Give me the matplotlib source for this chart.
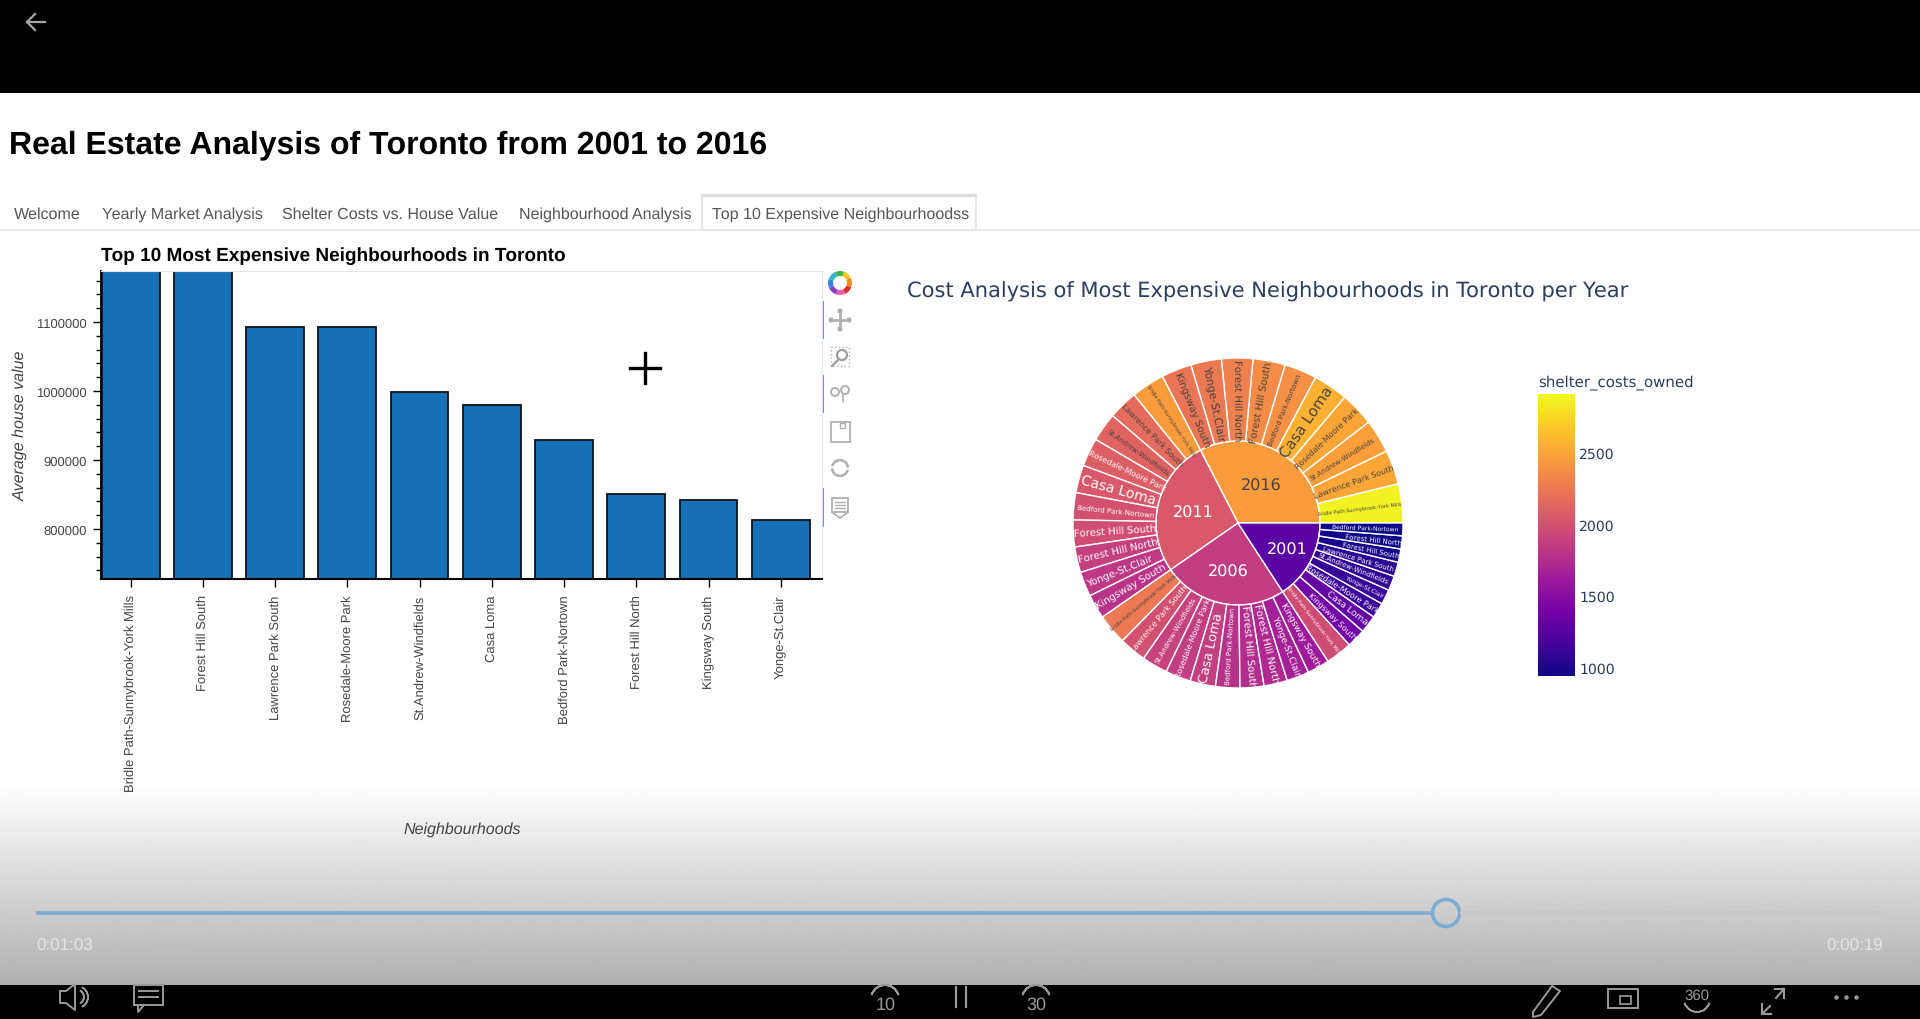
#!/usr/bin/env python3
"""
Captura de um dashboard de imóveis de Toronto (barras + sunburst) em player de vídeo.
Saída: out.png
"""

import numpy as np
import matplotlib
matplotlib.use('Agg')
import matplotlib.pyplot as plt
from matplotlib.colors import LinearSegmentedColormap, Normalize
from matplotlib.font_manager import FontProperties
from matplotlib.patches import Wedge, Rectangle, Circle
from matplotlib.textpath import TextPath

plt.rcParams['text.hinting'] = 'no_hinting'
plt.rcParams['text.hinting_factor'] = 1

SANS = 'Liberation Sans'
VERDANA = 'DejaVu Sans'

# ---------------------------------------------------------------------------
# Dados
# ---------------------------------------------------------------------------
neighbourhoods = ['Bridle Path-Sunnybrook-York Mills', 'Forest Hill South',
                  'Lawrence Park South', 'Rosedale-Moore Park',
                  'St.Andrew-Windfields', 'Casa Loma', 'Bedford Park-Nortown',
                  'Forest Hill North', 'Kingsway South', 'Yonge-St.Clair']
house_values = [1526500, 1196000, 1093000, 1092600, 998000,
                980000, 929400, 850700, 842200, 812700]

tab_names = ['Welcome', 'Yearly Market Analysis', 'Shelter Costs vs. House Value',
             'Neighbourhood Analysis', 'Top 10 Expensive Neighbourhoodss']

# ordem anti-horária a partir do leste, como no gráfico
years = ['2016', '2011', '2006', '2001']
order_main = ['Bridle Path-Sunnybrook-York Mills', 'Lawrence Park South',
              'St.Andrew-Windfields', 'Rosedale-Moore Park', 'Casa Loma',
              'Bedford Park-Nortown', 'Forest Hill South', 'Forest Hill North',
              'Yonge-St.Clair', 'Kingsway South']
order_2001 = ['Bridle Path-Sunnybrook-York Mills', 'Kingsway South', 'Casa Loma',
              'Rosedale-Moore Park', 'Yonge-St.Clair', 'St.Andrew-Windfields',
              'Lawrence Park South', 'Forest Hill South', 'Forest Hill North',
              'Bedford Park-Nortown']
costs_2016 = [2870, 2510, 2470, 2500, 2560, 2380, 2360, 2300, 2250, 2220]
costs_2011 = [2450, 2170, 2110, 2080, 2040, 1990, 1970, 1880, 1820, 1790]
costs_2006 = [2246, 1990, 1900, 1860, 1870, 1780, 1750, 1720, 1650, 1620]
costs_2001 = [1955, 1380, 1300, 1120, 1100, 1080, 1050, 980, 960, 930]

year_labels = [order_main, order_main, order_main, order_2001]
year_costs = [costs_2016, costs_2011, costs_2006, costs_2001]
year_text_r = [44, 46, 49, 56]

cbar_ticks = [1000, 1500, 2000, 2500]

PLASMA = ['#0d0887', '#46039f', '#7201a8', '#9c179e', '#bd3786',
          '#d8576b', '#ed7953', '#fb9f3a', '#fdca26', '#f0f921']
cmap = LinearSegmentedColormap.from_list('plotly_plasma', PLASMA)
norm = Normalize(937, 2911)

W, H = 1920, 1020
fig = plt.figure(figsize=(W / 100, H / 100), dpi=100, facecolor='white')


def px_axes(left, top, right, bottom, **kw):
    """Eixos posicionados em pixels da imagem."""
    return fig.add_axes([left / W, 1 - bottom / H, (right - left) / W, (bottom - top) / H], **kw)


# ---- Fundo do player ----
bg = px_axes(0, 0, W, H)
bg.axis('off')
bg.add_patch(Rectangle((0, 0), W, 94, color='black', lw=0))
bg.add_patch(Rectangle((0, 986), W, 34, color='black', lw=0))
grad = np.linspace(1, 0.69, 256).reshape(-1, 1)
bg.imshow(grad, extent=(0, W, 986, 784), cmap='gray', vmin=0, vmax=1, aspect='auto', zorder=0)
bg.set_xlim(0, W)
bg.set_ylim(H, 0)

# seta de voltar
bg.plot([27, 45], [23, 23], color='#a8a8a8', lw=1.6)
bg.plot([35, 27, 35], [15, 23, 31], color='#a8a8a8', lw=1.6)

# ---- Título e abas ----
# Liberation Sans só aceita tamanhos inteiros em px: 22.8 pt é o mais próximo
bg.text(9, 153, 'Real Estate Analysis of Toronto from 2001 to 2016', family=SANS,
        fontweight='bold', fontsize=22.8, color='black', ha='left', va='baseline')
bg.plot([0, W], [230.5, 230.5], color='#e6e6e6', lw=1.2)
bg.add_patch(Rectangle((702, 196), 274, 35, fc='white', ec='#e2e2e2', lw=1.2, zorder=2))
bg.plot([703, 975], [196, 196], color='#dddddd', lw=2.5, zorder=3)
for name, x in zip(tab_names, [14, 102, 282.5, 519, 712]):
    bg.text(x, 219, name, family=SANS, fontsize=11.45, color='#555555',
            ha='left', va='baseline', zorder=4)

# ---- Controles do player ----
bg.plot([35.5, 1433], [914, 914], color='#7dabd3', lw=2.6, solid_capstyle='butt')
bg.plot([1460, 1883], [914, 914], color='#c8c8c8', lw=2.6, solid_capstyle='butt')
bg.add_patch(Circle((1446, 914), 13.5, fc='none', ec='#7dabd3', lw=2.6))
bg.text(36, 951, '0:01:03', family=SANS, fontsize=12, color='#e2e2e2', ha='left', va='baseline')
bg.text(1883, 951, '0:00:19', family=SANS, fontsize=12, color='#e2e2e2', ha='right', va='baseline')

ICON = '#9a9a9a'
# alto-falante
bg.plot([60, 66, 75, 75, 66, 60, 60], [992, 992, 985, 1011, 1004, 1004, 992], color=ICON, lw=1.4)
for off in (4, 8):
    bg.add_patch(Wedge((77, 998), 3 + off, -60, 60, width=0.1, ec=ICON, lw=1.2))
# comentário
bg.add_patch(Rectangle((134, 986), 29, 20, fc='none', ec=ICON, lw=1.4))
bg.plot([139, 158], [992, 992], color=ICON, lw=1.4)
bg.plot([139, 158], [998, 998], color=ICON, lw=1.4)
bg.plot([138, 138, 144], [1006, 1013, 1006], color=ICON, lw=1.4)
# voltar 10, pausa, avançar 30
bg.add_patch(Wedge((885, 1000), 14, 200, 340, width=0.1, ec=ICON, lw=1.4))
bg.text(886, 1005, '10', family=SANS, fontsize=13, color=ICON, ha='center', va='center')
bg.plot([956, 956], [988, 1008], color=ICON, lw=1.6)
bg.plot([966, 966], [988, 1008], color=ICON, lw=1.6)
bg.add_patch(Wedge((1036, 1000), 14, 200, 340, width=0.1, ec=ICON, lw=1.4))
bg.text(1036, 1005, '30', family=SANS, fontsize=13, color=ICON, ha='center', va='center')
# lápis, pip, 360, expandir, mais
bg.plot([1533, 1552, 1560, 1541, 1533, 1533], [1013, 987, 992, 1016, 1018, 1013], color=ICON, lw=1.4)
bg.add_patch(Rectangle((1608, 990), 30, 19, fc='none', ec=ICON, lw=1.4))
bg.add_patch(Rectangle((1620, 997), 11, 8, fc='none', ec=ICON, lw=1.2))
bg.text(1697, 996, '360', family=SANS, fontsize=11, color=ICON, ha='center', va='center')
bg.add_patch(Wedge((1697, 1000), 13, 20, 160, width=0.1, ec=ICON, lw=1.2))
bg.plot([1762, 1770], [1015, 1007], color=ICON, lw=1.5)
bg.plot([1762, 1762, 1771], [1005, 1015, 1015], color=ICON, lw=1.5)
bg.plot([1776, 1784], [999, 990], color=ICON, lw=1.5)
bg.plot([1775, 1784, 1784], [990, 990, 999], color=ICON, lw=1.5)
bg.plot([1836, 1846, 1856], [998, 998, 998], 'o', color=ICON, ms=2.2)

# ---- Barra de ferramentas do bokeh ----
for top, bottom in [(303, 339), (377, 413), (490, 527)]:
    bg.plot([822.5, 822.5], [top, bottom], color='#26aae1', lw=1.4)
logo = ['#e12b2b', '#e85fb0', '#8b3fc4', '#3b7fe0', '#2fb9c9', '#3cb44b', '#f2c81e', '#f08c1e']
for i, c in enumerate(logo):
    bg.add_patch(Wedge((840, 284), 12, i * 45 + 20, (i + 1) * 45 + 20, width=5, color=c, lw=0))
TOOL = '#b0b0b0'
# mover
bg.plot([831, 849], [321, 321], color=TOOL, lw=2)
bg.plot([840, 840], [312, 330], color=TOOL, lw=2)
for hx, hy in [(831, 321), (849, 321), (840, 312), (840, 330)]:
    bg.add_patch(Circle((hx, hy), 2.6, color=TOOL, lw=0))
# zoom caixa
bg.add_patch(Rectangle((831, 348), 18, 19, fc='none', ec=TOOL, lw=1, ls=':'))
bg.add_patch(Circle((842, 356), 5, fc='none', ec='#9d9d9d', lw=1.6))
bg.plot([838, 832], [361, 367], color='#9d9d9d', lw=1.6)
# zoom roda
bg.add_patch(Circle((835, 393), 4, fc='none', ec=TOOL, lw=1.4))
bg.add_patch(Circle((845, 391), 4, fc='none', ec=TOOL, lw=1.4))
bg.plot([843, 843], [395, 403], color=TOOL, lw=1.2)
# salvar
bg.add_patch(Rectangle((831, 423), 19, 20, fc='none', ec=TOOL, lw=1.3))
bg.add_patch(Rectangle((840, 424), 5, 5, fc='none', ec=TOOL, lw=1))
# reset
bg.add_patch(Wedge((840, 469), 8, 20, 170, width=0.1, ec=TOOL, lw=1.5))
bg.add_patch(Wedge((840, 469), 8, 200, 350, width=0.1, ec=TOOL, lw=1.5))
# hover
bg.add_patch(Rectangle((832, 499), 16, 14, fc='none', ec=TOOL, lw=1.3))
bg.plot([832, 840, 848], [513, 519, 513], color=TOOL, lw=1.3)
for y in (503, 506, 509):
    bg.plot([835, 845], [y, y], color=TOOL, lw=1)

# cursor
bg.plot([630, 660], [369, 369], color='black', lw=2.4, zorder=6)
bg.plot([645, 645], [354, 384], color='black', lw=2.4, zorder=6)

# ===========================================================================
# Barras
# ===========================================================================
ax = px_axes(101, 272, 822, 580)
ax.patch.set_alpha(0)
x = np.arange(len(neighbourhoods))
ax.bar(x, house_values, width=0.8, color='#1770b5', edgecolor='#06121c', linewidth=1.3)
ax.set_xlim(-0.41, 9.57)
ax.set_ylim(727500, 1174000)
ax.set_xticks(x)
ax.set_xticklabels(neighbourhoods, rotation=90, family=SANS, fontsize=9.6, color='#444444')
ax.set_yticks([800000, 900000, 1000000, 1100000])
ax.set_yticks(np.arange(740000, 1174000, 20000), minor=True)
ax.set_yticklabels(['800000', '900000', '1000000', '1100000'], family=SANS, fontsize=9.6, color='#444444')
ax.tick_params(axis='x', length=6, width=1, pad=5)
ax.tick_params(axis='y', which='major', length=6, width=1, pad=4)
ax.tick_params(axis='y', which='minor', length=3.5, width=1)
ax.spines['top'].set_color('#e5e5e5')
ax.spines['right'].set_color('#e5e5e5')
ax.spines['left'].set_linewidth(1.3)
ax.spines['bottom'].set_linewidth(1.5)

bg.text(101, 261, 'Top 10 Most Expensive Neighbourhoods in Toronto', family=SANS,
        fontweight='bold', fontsize=13.7, color='black', ha='left', va='baseline')
bg.text(20, 426, 'Average house value', family=SANS, style='italic', fontsize=11.5,
        color='#444444', rotation=90, ha='center', va='center')
bg.text(462, 830, 'Neighbourhoods', family=SANS, style='italic', fontsize=11.5,
        color='#444444', ha='center', va='center')

# ===========================================================================
# Sunburst
# ===========================================================================
R_IN, R_OUT = 82, 165
CX, CY = 1238, 524
sb = px_axes(CX - 175, CY - 175, CX + 175, CY + 175)
sb.set_xlim(-175, 175)
sb.set_ylim(-175, 175)
sb.set_aspect('equal')
sb.axis('off')

label_fp = FontProperties(family=VERDANA)


def text_color(rgba):
    brightness = 255 * (rgba[0] * 0.299 + rgba[1] * 0.587 + rgba[2] * 0.114)
    return '#444444' if brightness > 134 else 'white'


def fit_label(label, span):
    """Tamanho em pt e comprimento em px do rótulo, ajustado ao setor."""
    ext = TextPath((0, 0), label, size=10, prop=label_fp).get_extents()
    max_len = (R_OUT - R_IN) * 0.94
    max_h = 2 * 90 * np.tan(np.radians(span) / 2) * 0.7
    em_px = 10 * min(max_len / ext.width, max_h / ext.height)
    return em_px * 0.72, ext.width * em_px / 10


scale = 360 / sum(sum(c) for c in year_costs)
theta = 0.0
for year, labels, costs, text_r in zip(years, year_labels, year_costs, year_text_r):
    spans = np.array(costs) * scale
    total = spans.sum()
    fill = cmap(norm(np.average(costs, weights=costs)))
    sb.add_patch(Wedge((0, 0), R_IN, theta, theta + total, fc=fill, ec='white', lw=1))
    mid = np.radians(theta + total / 2)
    sb.text(text_r * np.cos(mid), text_r * np.sin(mid), year, family=VERDANA, fontsize=11.2,
            color=text_color(fill), ha='center', va='center', zorder=5)
    for label, cost, span in zip(labels, costs, spans):
        fill = cmap(norm(cost))
        sb.add_patch(Wedge((0, 0), R_OUT, theta, theta + span, width=R_OUT - R_IN,
                           fc=fill, ec='white', lw=1))
        angle = theta + span / 2
        size, length = fit_label(label, span)
        r = R_OUT - 3 - length / 2
        rot = angle if (angle < 90 or angle > 270) else angle - 180
        sb.text(r * np.cos(np.radians(angle)), r * np.sin(np.radians(angle)), label,
                family=VERDANA, fontsize=size, rotation=rot, rotation_mode='anchor',
                color=text_color(fill), ha='center', va='center', zorder=5)
        theta += span

bg.text(907, 298, 'Cost Analysis of Most Expensive Neighbourhoods in Toronto per Year',
        family=VERDANA, fontsize=14.9, color='#2a3f5f', ha='left', va='baseline')

# ---- Barra de cores ----
cb = px_axes(1538, 395, 1575, 677)
cb.imshow(np.linspace(1, 0, 256).reshape(-1, 1), cmap=cmap, aspect='auto',
          extent=(0, 1, norm.vmin, norm.vmax))
cb.set_xticks([])
cb.set_yticks(cbar_ticks)
cb.yaxis.tick_right()
cb.tick_params(axis='y', length=0, pad=3, labelcolor='#2a3f5f', labelsize=10)
for lab in cb.get_yticklabels():
    lab.set_family(VERDANA)
for spine in cb.spines.values():
    spine.set_visible(False)
bg.text(1538, 386, 'shelter_costs_owned', family=VERDANA, fontsize=10.9, color='#2a3f5f',
        ha='left', va='baseline')

plt.savefig('out.png', dpi=100)
plt.close()
